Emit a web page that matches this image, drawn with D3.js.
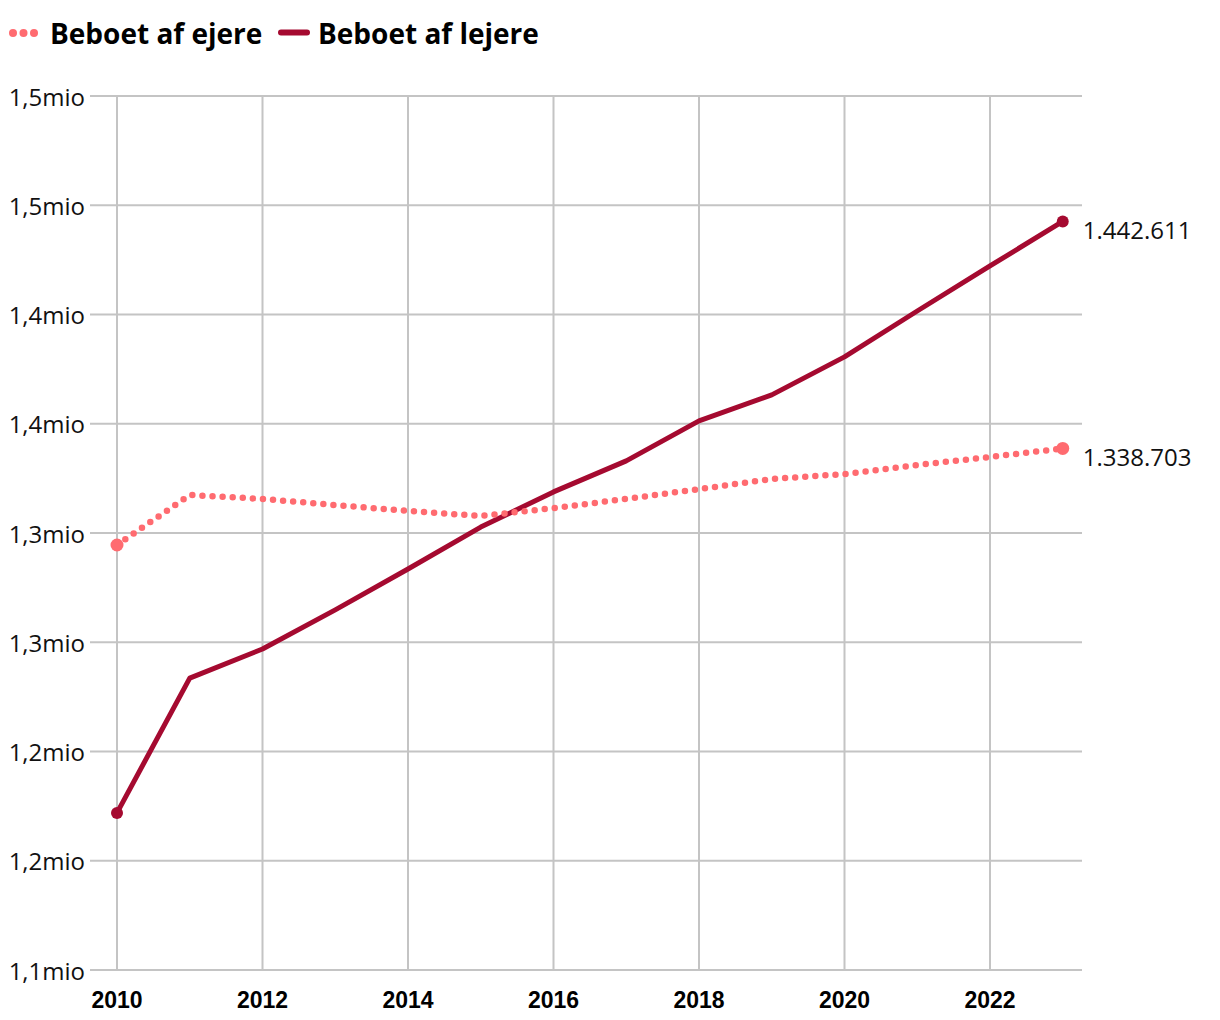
<!DOCTYPE html>
<html>
<head>
<meta charset="utf-8">
<script src="https://cdn.jsdelivr.net/npm/d3@7"></script>
<style>
  html, body { margin: 0; padding: 0; background: #fff; }
  svg { display: block; }
</style>
</head>
<body>
<svg id="chart" width="1220" height="1020"></svg>
<script>
// ---- data ----
const years = [2010, 2011, 2012, 2013, 2014, 2015, 2016, 2017, 2018, 2019, 2020, 2021, 2022, 2023];
const ejere = [1294500, 1317400, 1315600, 1312800, 1310100, 1307800, 1311400, 1315600, 1320100, 1324700, 1327000, 1331100, 1334800, 1338703];
const lejere = [1171900, 1233600, 1246900, 1264800, 1283500, 1302700, 1318800, 1333000, 1351300, 1363200, 1380600, 1401600, 1422200, 1442611];
const seriesNames = ["Beboet af ejere", "Beboet af lejere"];
const yTicks = [1100000, 1150000, 1200000, 1250000, 1300000, 1350000, 1400000, 1450000, 1500000];
const yTickLabels = ["1,1mio", "1,2mio", "1,2mio", "1,3mio", "1,3mio", "1,4mio", "1,4mio", "1,5mio", "1,5mio"];
const xTicks = [2010, 2012, 2014, 2016, 2018, 2020, 2022];

(function () {
// ---- layout ----
const colEjere = "#ff6b70";
const colLejere = "#a50a30";
const svg = d3.select("#chart");
const pLeft = 117, pRight = 1062.75, pTop = 96, pBottom = 970, gridLeft = 90, gridRight = 1082;

const x = d3.scaleLinear().domain([2010, 2023]).range([pLeft, pRight]);
const y = d3.scaleLinear().domain([1100000, 1500000]).range([pBottom, pTop]);

// grid
const g = svg.append("g");
g.selectAll("line.h").data(yTicks).join("line")
  .attr("x1", gridLeft).attr("x2", gridRight)
  .attr("y1", d => y(d)).attr("y2", d => y(d))
  .attr("stroke", "#c4c4c4").attr("stroke-width", 2);
g.selectAll("line.v").data(xTicks).join("line")
  .attr("x1", d => x(d)).attr("x2", d => x(d))
  .attr("y1", pTop).attr("y2", pBottom)
  .attr("stroke", "#c4c4c4").attr("stroke-width", 2);

// y labels
g.selectAll("text.y").data(yTicks).join("text")
  .attr("x", 85).attr("y", d => y(d))
  .attr("text-anchor", "end").attr("dominant-baseline", "central")
  .style("font-family", "'Open Sans', sans-serif").style("font-size", "24px").attr("fill", "#111")
  .text((d, i) => yTickLabels[i]);

// x labels
g.selectAll("text.x").data(xTicks).join("text")
  .attr("x", d => x(d)).attr("y", 1008)
  .attr("text-anchor", "middle")
  .style("font-family", "'Liberation Sans', Arial, sans-serif").style("font-weight", "bold").style("font-size", "23px").attr("fill", "#000")
  .text(d => d);

const line = d3.line().x((d, i) => x(years[i])).y(d => y(d));

// lejere
svg.append("path").datum(lejere).attr("d", line)
  .attr("fill", "none").attr("stroke", colLejere).attr("stroke-width", 5)
  .attr("stroke-linejoin", "round");
// ejere (dotted)
svg.append("path").datum(ejere).attr("d", line)
  .attr("fill", "none").attr("stroke", colEjere).attr("stroke-width", 6.5)
  .attr("stroke-linecap", "round").attr("stroke-dasharray", "0 10.1");

// end points
const ends = [
  { v: ejere, c: colEjere, r: 6.5 },
  { v: lejere, c: colLejere, r: 6 }
];
ends.forEach(s => {
  [0, years.length - 1].forEach(i => {
    svg.append("circle").attr("cx", x(years[i])).attr("cy", y(s.v[i])).attr("r", s.r).attr("fill", s.c);
  });
});

const loc = d3.formatLocale({ decimal: ",", thousands: ".", grouping: [3], currency: ["", ""] });
const fmt = loc.format(",d");
ends.forEach(s => {
  const i = years.length - 1;
  svg.append("text").attr("x", x(years[i]) + 20).attr("y", y(s.v[i]) + 8)
    .attr("dominant-baseline", "central")
    .style("font-family", "'Open Sans', sans-serif").style("font-size", "24px").attr("fill", "#111")
    .text(fmt(s.v[i]));
});

// legend
const lg = svg.append("g");
[13, 23.5, 34].forEach(cx => lg.append("circle").attr("cx", cx).attr("cy", 33).attr("r", 4).attr("fill", colEjere));
lg.append("text").attr("x", 50).attr("y", 33).attr("dominant-baseline", "central")
  .style("font-family", "'Open Sans', sans-serif").style("font-weight", "bold").style("font-size", "28px")
  .attr("fill", "#000").text(seriesNames[0]);
lg.append("line").attr("x1", 281).attr("x2", 307).attr("y1", 32.5).attr("y2", 32.5)
  .attr("stroke", colLejere).attr("stroke-width", 6).attr("stroke-linecap", "round");
lg.append("text").attr("x", 318).attr("y", 33).attr("dominant-baseline", "central")
  .style("font-family", "'Open Sans', sans-serif").style("font-weight", "bold").style("font-size", "28px")
  .attr("fill", "#000").text(seriesNames[1]);
})();
</script>
</body>
</html>
